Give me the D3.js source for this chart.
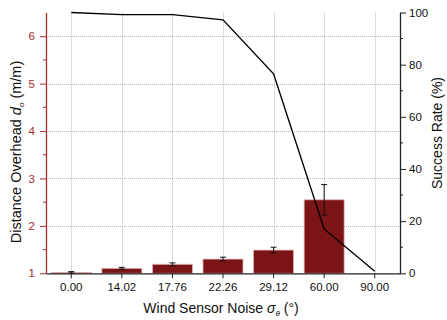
<!DOCTYPE html>
<html>
<head>
<meta charset="utf-8">
<script src="https://cdn.jsdelivr.net/npm/d3@7"></script>
<style>
  body { margin: 0; background: #fff; }
  svg { display: block; font-family: Arial, "Liberation Sans", sans-serif; }
</style>
</head>
<body>
<svg id="chart" width="447" height="320"></svg>
<script>
// Wind sensor noise levels (degrees)
const categories = ["0.00", "14.02", "17.76", "22.26", "29.12", "60.00", "90.00"];
// Distance overhead (m/m), bar heights and error half-widths; no bar at 90°
const overhead = [1.02, 1.105, 1.19, 1.30, 1.49, 2.55, null];
const overheadErr = [0.015, 0.02, 0.03, 0.04, 0.06, 0.32, null];
// Success rate (%)
const successRate = [100, 99.2, 99.2, 97.2, 76.5, 17, 0.8];
const leftTicks = [1, 2, 3, 4, 5, 6];
const rightTicks = [0, 20, 40, 60, 80, 100];

const svg = d3.select("#chart");
const plotL = 46, plotR = 400, plotT = 12.5, plotB = 273.3;
const red = "#a52a2a";

const x = d3.scaleBand().domain(categories).range([plotL, plotR]).padding(0);
const yL = d3.scaleLinear().domain([1, 6.5]).range([plotB, plotT]);
const yR = d3.scaleLinear().domain([0, 100]).range([plotB, plotT]);
const cx = c => x(c) + x.bandwidth() / 2;

// grid
const grid = svg.append("g").attr("stroke", "#b8b8b8").attr("stroke-width", 1).attr("stroke-dasharray", "1,1");
grid.selectAll("line.v").data(categories).join("line")
  .attr("x1", d => Math.round(cx(d)) + 0.5).attr("x2", d => Math.round(cx(d)) + 0.5)
  .attr("y1", plotT).attr("y2", plotB);
grid.selectAll("line.h").data(leftTicks.filter(t => t > 1)).join("line")
  .attr("x1", plotL).attr("x2", plotR)
  .attr("y1", d => Math.round(yL(d)) + 0.5).attr("y2", d => Math.round(yL(d)) + 0.5);

// bars
const barW = 40;
const barData = categories.map((c, i) => ({c, v: overhead[i], e: overheadErr[i]})).filter(d => d.v != null);
svg.append("g").selectAll("rect").data(barData).join("rect")
  .attr("x", d => cx(d.c) - barW / 2).attr("width", barW)
  .attr("y", d => yL(d.v)).attr("height", d => yL(1) - yL(d.v))
  .attr("fill", "#7a1417").attr("stroke", "#e3b3b3").attr("stroke-width", 0.8);

// error bars
const eb = svg.append("g").attr("stroke", "#111").attr("stroke-width", 1);
barData.forEach(d => {
  const xc = cx(d.c);
  eb.append("line").attr("x1", xc).attr("x2", xc).attr("y1", yL(d.v - d.e)).attr("y2", yL(d.v + d.e));
  [d.v - d.e, d.v + d.e].forEach(v => eb.append("line")
    .attr("x1", xc - 3).attr("x2", xc + 3).attr("y1", yL(v)).attr("y2", yL(v)));
});

// success rate line
svg.append("path")
  .datum(categories.map((c, i) => [cx(c), yR(successRate[i])]))
  .attr("d", d3.line())
  .attr("fill", "none").attr("stroke", "#000").attr("stroke-width", 1.4);

// bottom axis
const xAxis = svg.append("g").attr("transform", `translate(0,${plotB})`)
  .call(d3.axisBottom(x).tickSize(5).tickPadding(5).tickSizeOuter(0));
xAxis.select(".domain").attr("stroke", "#222").attr("stroke-width", 1.3);
xAxis.selectAll(".tick line").attr("stroke", "#222");
xAxis.selectAll("text").attr("font-size", 11.5).attr("fill", "#111");

// left axis (red) with minor ticks
const leftG = svg.append("g").attr("transform", `translate(${plotL},0)`);
leftG.call(d3.axisLeft(yL).tickValues(leftTicks).tickFormat(d3.format("d"))
  .tickSize(6).tickPadding(5).tickSizeOuter(0));
leftG.append("g").selectAll("line").data([1.5, 2.5, 3.5, 4.5, 5.5]).join("line")
  .attr("x1", -3).attr("x2", 0).attr("y1", d => yL(d)).attr("y2", d => yL(d)).attr("stroke", red);
leftG.select(".domain").attr("stroke", red).attr("stroke-width", 1.3);
leftG.selectAll(".tick line").attr("stroke", red);
leftG.selectAll("text").attr("font-size", 11.5).attr("fill", red);

// right axis with minor ticks
const rightG = svg.append("g").attr("transform", `translate(${plotR},0)`);
rightG.call(d3.axisRight(yR).tickValues(rightTicks).tickSize(6).tickPadding(3).tickSizeOuter(0));
rightG.append("g").selectAll("line").data([10, 30, 50, 70, 90]).join("line")
  .attr("x1", 0).attr("x2", 3).attr("y1", d => yR(d)).attr("y2", d => yR(d)).attr("stroke", "#222");
rightG.select(".domain").attr("stroke", "#222").attr("stroke-width", 1.3);
rightG.selectAll(".tick line").attr("stroke", "#222");
rightG.selectAll("text").attr("font-size", 11.5).attr("fill", "#111");

// axis titles
const xt = svg.append("text").attr("x", 221).attr("y", 313)
  .attr("text-anchor", "middle").attr("font-size", 14).attr("fill", "#111");
xt.append("tspan").text("Wind Sensor Noise ");
xt.append("tspan").attr("font-style", "italic").text("σ");
xt.append("tspan").attr("font-style", "italic").attr("font-size", 8).attr("dy", 3).text("θ");
xt.append("tspan").attr("dy", -3).text(" (°)");

const yt = svg.append("text").attr("transform", "translate(21,152) rotate(-90)")
  .attr("text-anchor", "middle").attr("font-size", 14.5).attr("fill", "#111");
yt.append("tspan").text("Distance Overhead ");
yt.append("tspan").attr("font-style", "italic").text("d");
yt.append("tspan").attr("font-style", "italic").attr("font-size", 8).attr("dy", 3).text("o");
yt.append("tspan").attr("dy", -3).text(" (m/m)");

svg.append("text").attr("transform", "translate(442,133) rotate(-90)")
  .attr("text-anchor", "middle").attr("font-size", 14).attr("fill", "#111")
  .text("Success Rate (%)");
</script>
</body>
</html>
